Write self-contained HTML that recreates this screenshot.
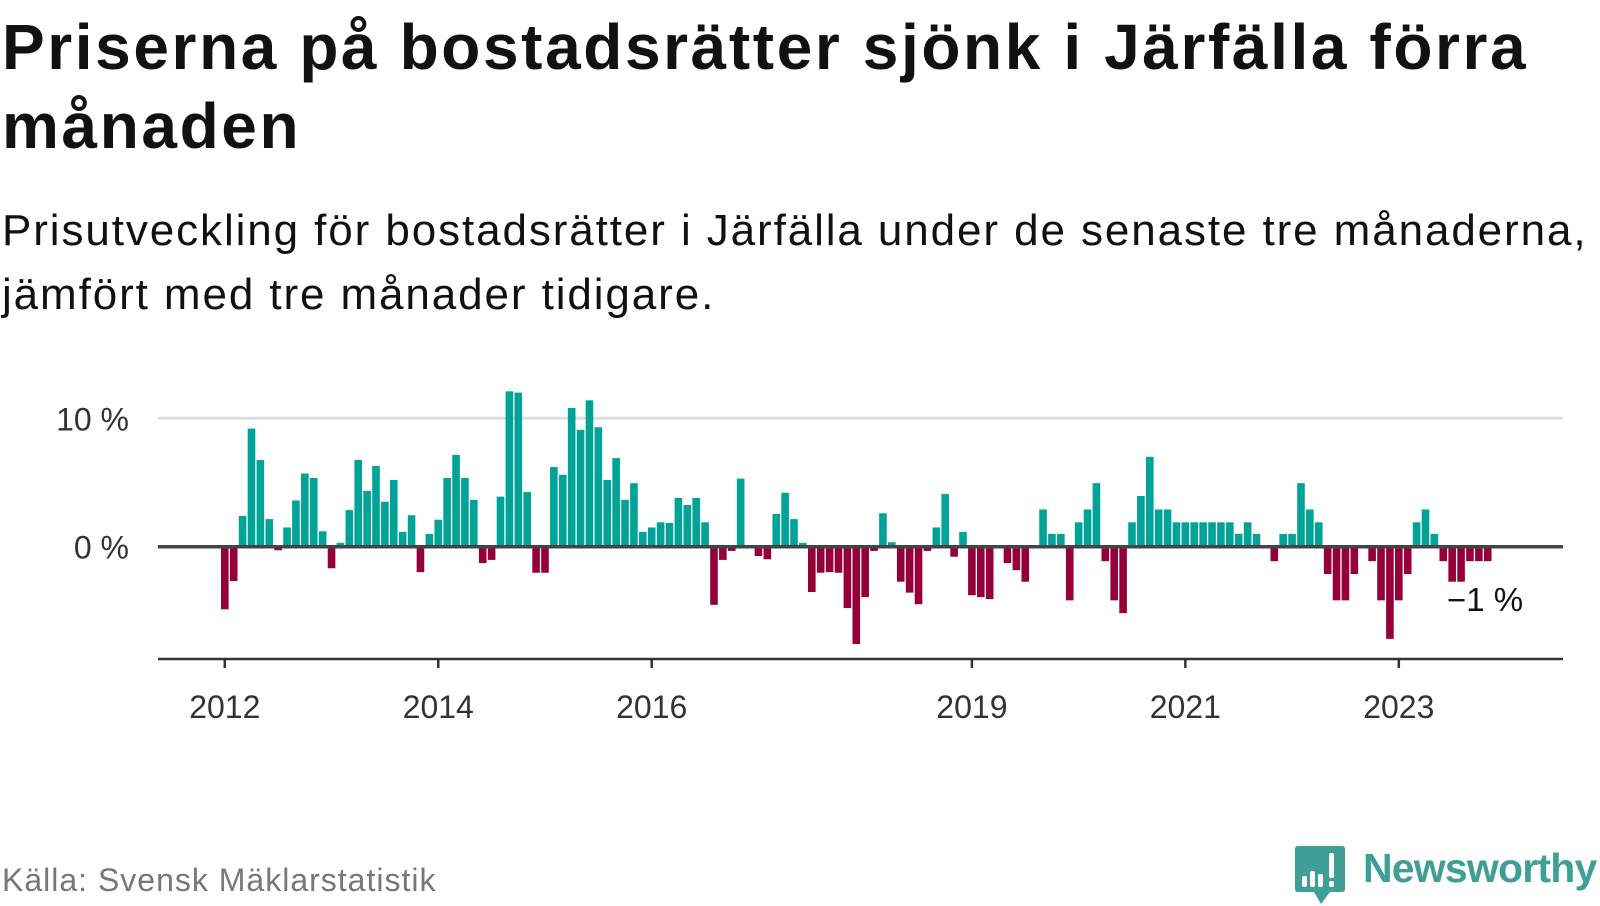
<!DOCTYPE html>
<html><head><meta charset="utf-8"><style>
html,body{margin:0;padding:0;background:#fff;width:1600px;height:900px;overflow:hidden;font-family:"Liberation Sans",sans-serif;}
.t{position:absolute;left:2px;margin:0;white-space:nowrap;}
</style></head><body>
<h1 class="t" style="top:8px;font-size:64px;line-height:79px;font-weight:bold;color:#111;letter-spacing:2.6px">Priserna på bostadsrätter sjönk i Järfälla förra<br>månaden</h1>
<p class="t" style="top:199px;font-size:44px;line-height:64px;color:#111;letter-spacing:1.9px">Prisutveckling för bostadsrätter i Järfälla under de senaste tre månaderna,<br>jämfört med tre månader tidigare.</p>
<svg id="chart" width="1600" height="900" style="position:absolute;left:0;top:0" xmlns="http://www.w3.org/2000/svg"></svg>
<p class="t" style="top:862px;font-size:32px;line-height:36px;color:#777;letter-spacing:1px">Källa: Svensk Mäklarstatistik</p>
<div style="position:absolute;left:1295px;top:846px;width:305px;height:60px">
<svg width="52" height="60" style="position:absolute;left:0;top:0"><path d="M3 0H47Q50 0 50 3V43Q50 46 47 46H35L26 58L19 46H3Q0 46 0 43V3Q0 0 3 0Z" fill="#3f9f97"/><rect x="7" y="30" width="5" height="11" rx="2" fill="#fff"/><rect x="15" y="25" width="5" height="16" rx="2" fill="#fff"/><rect x="23" y="28" width="5" height="13" rx="2" fill="#fff"/><rect x="34" y="7" width="5" height="25" rx="2" fill="#fff"/><rect x="34" y="35" width="5" height="6" rx="2" fill="#fff"/></svg>
<span style="position:absolute;left:68px;top:-1px;font-size:41px;font-weight:bold;color:#3f9f97;letter-spacing:-0.8px">Newsworthy</span>
</div>
<script>
const values=[-4.8,-2.6,2.4,9.2,6.75,2.15,-0.2,1.5,3.6,5.7,5.35,1.2,-1.6,0.3,2.85,6.75,4.35,6.3,3.5,5.2,1.15,2.45,-1.9,1.0,2.1,5.35,7.15,5.35,3.65,-1.2,-0.95,3.9,12.1,12.0,4.25,-1.95,-1.95,6.2,5.6,10.8,9.1,11.4,9.3,5.2,6.9,3.65,4.95,1.15,1.5,1.9,1.85,3.8,3.25,3.8,1.9,-4.45,-0.95,-0.25,5.3,0,-0.65,-0.9,2.55,4.2,2.15,0.3,-3.45,-1.95,-1.9,-1.95,-4.7,-7.5,-3.85,-0.25,2.6,0.35,-2.65,-3.5,-4.4,-0.25,1.5,4.1,-0.7,1.15,-3.7,-3.85,-4.0,0,-1.2,-1.75,-2.65,0,2.9,1.0,1.0,-4.1,1.9,2.9,4.95,-1.05,-4.1,-5.1,1.9,3.95,7.0,2.9,2.9,1.9,1.9,1.9,1.9,1.9,1.9,1.9,1.0,1.9,1.0,0,-1.05,1.0,1.0,4.95,2.9,1.9,-2.05,-4.1,-4.1,-2.05,0,-1.05,-4.1,-7.1,-4.1,-2.05,1.9,2.9,1.0,-1.05,-2.65,-2.65,-1.05,-1.05,-1.05];
const yTicks=[0,10];
const yTickLabels=["0 %","10 %"];
const xTickIndex=[0,24,48,84,108,132];
const xTickLabels=["2012","2014","2016","2019","2021","2023"];
const lastLabel="−1 %";
const NS="http://www.w3.org/2000/svg";
const svg=document.getElementById('chart');
const x0=221,pitch=8.894,bw=7.6;
const xs=i=>x0+i*pitch;
const ys=v=>546.7-v*12.84;
function mk(tag,attrs){const e=document.createElementNS(NS,tag);for(const k in attrs)e.setAttribute(k,attrs[k]);svg.appendChild(e);return e;}
yTicks.forEach((v,i)=>{
  if(v!==0){const g=mk('line',{x1:158,x2:1563,y1:ys(v),y2:ys(v),stroke:'#dedede','stroke-width':3});
  
  }
  const t=mk('text',{x:129,y:ys(v)+12,'text-anchor':'end','font-size':32,fill:'#333','font-family':'Liberation Sans, sans-serif'});
  t.textContent=yTickLabels[i];
  
  
});
values.forEach((v,i)=>{
  if(v===0)return;
  const y=v>0?ys(v):ys(0)+1;
  const h=Math.abs(ys(v)-ys(0));
  const r=mk('rect',{x:xs(i),y:y,width:bw,height:h,fill:v>0?'#00a398':'#95003a'});
  
  
});
const z=mk('line',{x1:158,x2:1563,y1:ys(0),y2:ys(0),stroke:'#444','stroke-width':3.5});


const ax=mk('line',{x1:158,x2:1563,y1:659,y2:659,stroke:'#333','stroke-width':2.5});


xTickIndex.forEach((idx,i)=>{
  const cx=xs(idx)+bw/2;
  const tk=mk('line',{x1:cx,x2:cx,y1:659,y2:668,stroke:'#333','stroke-width':2.5});
  
  
  const t=mk('text',{x:cx,y:718,'text-anchor':'middle','font-size':32,fill:'#333','font-family':'Liberation Sans, sans-serif'});
  t.textContent=xTickLabels[i];
  
  
});
const li=values.length-1;
const lt=mk('text',{x:xs(li)-37,y:ys(values[li])+51,'font-size':33,fill:'#111','font-family':'Liberation Sans, sans-serif'});
lt.textContent=lastLabel;


</script>
</body></html>
